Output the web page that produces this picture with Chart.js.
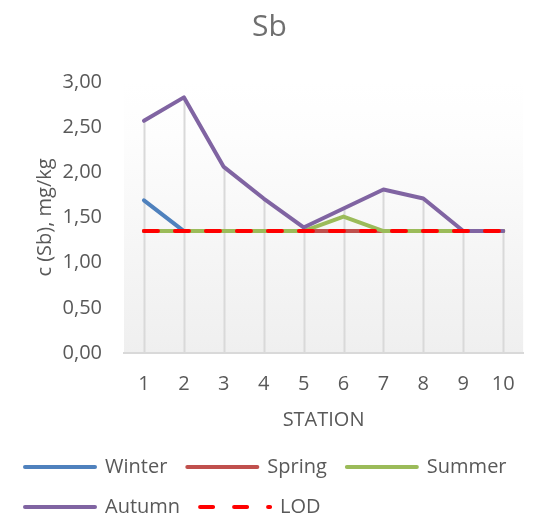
<!DOCTYPE html>
<html>
<head>
<meta charset="utf-8">
<script src="https://cdn.jsdelivr.net/npm/chart.js@4"></script>
<style>
  html, body { margin: 0; padding: 0; background: #ffffff; overflow: hidden; }
  #wrap { width: 534px; height: 517px; position: relative; }
</style>
</head>
<body>
<div id="wrap"><canvas id="c"></canvas></div>
<script>
const stations = ['1', '2', '3', '4', '5', '6', '7', '8', '9', '10'];
const winter = [1.69, 1.35, 1.35, 1.35, 1.35, 1.35, 1.35, 1.35, 1.35, 1.35];
const spring = [1.35, 1.35, 1.35, 1.35, 1.35, 1.35, 1.35, 1.35, 1.35, 1.35];
const summer = [1.35, 1.35, 1.35, 1.35, 1.35, 1.51, 1.35, 1.35, 1.35, 1.35];
const autumn = [2.57, 2.83, 2.06, 1.71, 1.39, 1.60, 1.81, 1.71, 1.35, 1.35];
const lod    = [1.35, 1.35, 1.35, 1.35, 1.35, 1.35, 1.35, 1.35, 1.35, 1.35];
const yTicks = [0, 0.5, 1, 1.5, 2, 2.5, 3];

const FONT = "'Open Sans', 'Noto Sans', sans-serif";
const TXT = '#595959';

const bgPlugin = {
  id: 'plotBg',
  beforeDraw(chart) {
    const {ctx, chartArea: a} = chart;
    const g = ctx.createLinearGradient(0, a.top, 0, a.bottom);
    g.addColorStop(0, '#ffffff');
    g.addColorStop(0.2, '#fdfdfd');
    g.addColorStop(1, '#efefef');
    ctx.save();
    ctx.fillStyle = g;
    ctx.fillRect(a.left, a.top, a.right - a.left, a.bottom - a.top);
    ctx.restore();
  }
};

const dropLines = {
  id: 'dropLines',
  beforeDatasetsDraw(chart) {
    const {ctx} = chart;
    const xs = chart.scales.x, ys = chart.scales.y;
    ctx.save();
    ctx.strokeStyle = '#d9d9d9';
    ctx.lineWidth = 2;
    stations.forEach((s, i) => {
      const vals = chart.data.datasets.map(d => d.data[i]);
      const mx = Math.max(...vals);
      const x = Math.round(xs.getPixelForValue(i)) + 0.5;
      ctx.beginPath();
      ctx.moveTo(x, ys.getPixelForValue(mx));
      ctx.lineTo(x, ys.getPixelForValue(0));
      ctx.stroke();
    });
    ctx.restore();
  }
};

function ds(label, data, color, order, dash, legendDash) {
  return {
    label, data,
    borderColor: color, backgroundColor: color,
    borderWidth: 4, pointRadius: 0, pointHoverRadius: 0,
    tension: 0, fill: false, order,
    borderDash: dash || [],
    legendDash: legendDash || [],
    borderCapStyle: 'round', borderJoinStyle: 'round'
  };
}

new Chart(document.getElementById('c'), {
  type: 'line',
  data: {
    labels: stations,
    datasets: [
      ds('Winter', winter, '#4f81bd', 5),
      ds('Spring', spring, '#c0504d', 4),
      ds('Summer', summer, '#9bbb59', 3),
      ds('Autumn', autumn, '#8064a2', 2),
      ds('LOD', lod, '#ff0000', 1, [14, 17], [13, 21])
    ]
  },
  options: {
    responsive: true,
    maintainAspectRatio: false,
    animation: false,
    layout: { padding: { left: 5, right: 0, top: 0, bottom: -10 } },
    plugins: {
      tooltip: { enabled: false },
      title: {
        display: true,
        text: 'Sb',
        color: '#6f6f6f',
        font: { family: FONT, size: 30, weight: 'normal', lineHeight: 1.2 },
        padding: { top: 9, bottom: 37 }
      },
      legend: {
        position: 'bottom',
        align: 'start',
        labels: {
          usePointStyle: true,
          pointStyle: 'line',
          pointStyleWidth: 70,
          padding: 20,
          color: TXT,
          font: { family: FONT, size: 20 },
          generateLabels(chart) {
            return chart.data.datasets.map((d, i) => ({
              text: d.label,
              strokeStyle: d.borderColor,
              fillStyle: d.borderColor,
              lineWidth: 4,
              lineDash: d.legendDash,
              lineCap: 'round',
              pointStyle: 'line',
              hidden: false,
              datasetIndex: i,
              fontColor: TXT
            }));
          }
        }
      }
    },
    scales: {
      x: {
        offset: true,
        grid: { display: false, drawTicks: false },
        border: { display: true, color: '#d9d9d9', width: 2 },
        ticks: { color: TXT, font: { family: FONT, size: 20 }, padding: 19, maxRotation: 0 },
        title: {
          display: true, text: 'STATION', color: TXT,
          font: { family: FONT, size: 20, lineHeight: 1.2 },
          padding: { top: 0, bottom: 5 }
        },
        afterFit(s) { s.height = 84; }
      },
      y: {
        min: 0, max: 3,
        afterBuildTicks(s) { s.ticks = yTicks.map(v => ({ value: v })); },
        grid: { display: false, drawTicks: false },
        border: { display: false },
        ticks: {
          color: TXT, font: { family: FONT, size: 20 }, padding: 22,
          callback: v => Number(v).toFixed(2).replace('.', ',')
        },
        title: {
          display: true, text: 'c (Sb), mg/kg', color: TXT,
          font: { family: FONT, size: 20, lineHeight: 1.2 },
          padding: { top: 28, bottom: 0 }
        },
        afterFit(s) { s.width = 119; }
      },
      yR: {
        position: 'right',
        display: true,
        grid: { display: false, drawTicks: false },
        border: { display: false },
        ticks: { display: false },
        afterFit(s) { s.width = 8; }
      }
    }
  },
  plugins: [bgPlugin, dropLines]
});
</script>
</body>
</html>
